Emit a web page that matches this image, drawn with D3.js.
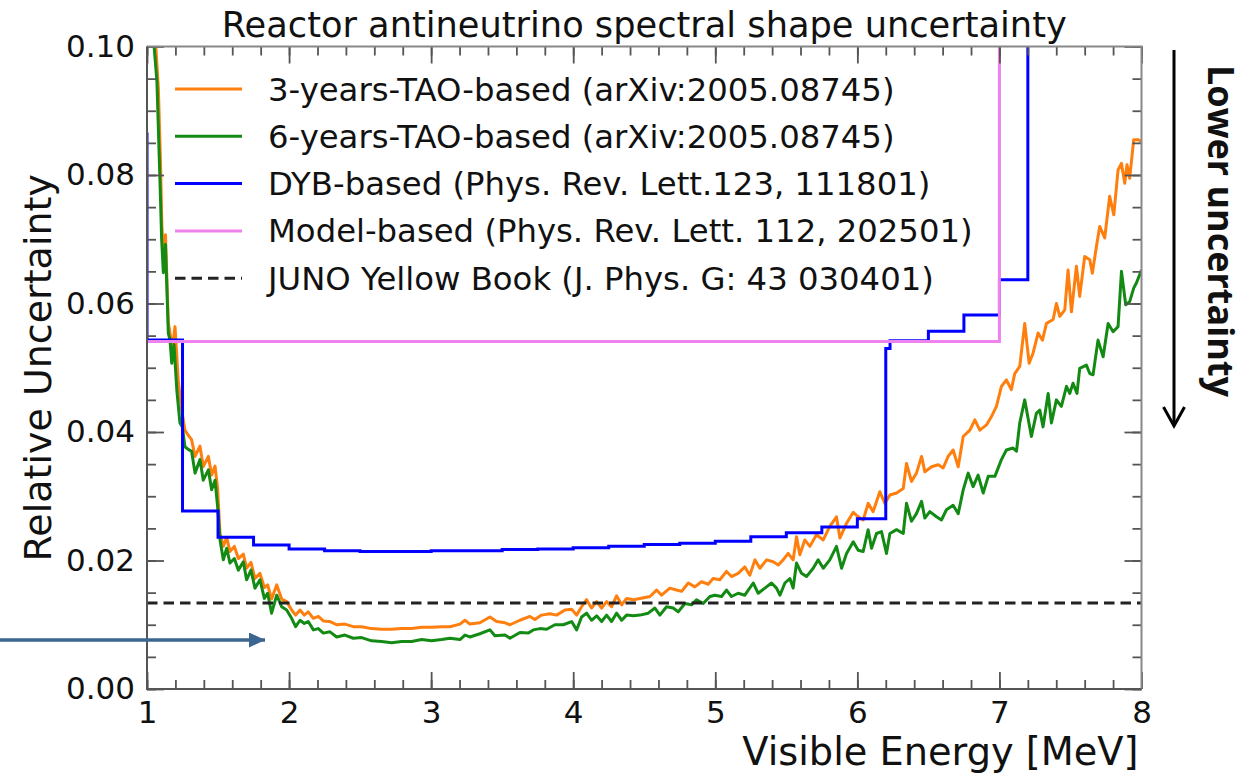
<!DOCTYPE html>
<html>
<head>
<meta charset="utf-8">
<script src="https://cdn.jsdelivr.net/npm/d3@7"></script>
<style>
  body { margin: 0; background: #fff; }
  svg { display: block; }
  text { font-family: "DejaVu Sans", sans-serif; fill: #111; }
</style>
</head>
<body>
<svg id="chart" width="1249" height="773"></svg>
<script>
// ---- Spectral shape uncertainty curves (visible energy in MeV, relative uncertainty) ----
const tao3E = [1.03,1.062,1.08,1.095,1.105,1.117,1.13,1.15,1.165,1.178,1.197,1.22,1.244,1.267,1.29,1.314,1.338,1.373,1.396,1.432,1.455,1.479,1.497,1.514,
  1.537,1.561,1.584,1.615,1.643,1.678,1.701,1.732,1.76,1.795,1.826,1.849,1.877,1.913,1.948,1.983,
  2.018,2.046,2.077,2.107,2.135,2.171,2.206,2.241,2.288,2.335,2.393,2.452,2.511,2.581,2.651,2.722,2.792,2.863,2.933,3.003,3.074,
  3.132,3.203,3.238,3.273,3.343,3.414,3.461,3.52,3.555,3.625,3.695,3.73,3.777,3.836,3.883,3.942,3.989,
  4.024,4.059,4.094,4.129,4.165,4.2,4.235,4.27,4.305,4.341,4.376,4.423,4.47,4.54,4.587,4.622,4.68,4.727,4.763,4.81,4.856,4.903,4.95,4.985,
  5.032,5.079,5.114,5.161,5.208,5.243,5.279,5.314,5.361,5.408,5.443,5.478,5.513,5.548,5.572,5.595,5.63,5.666,5.712,5.76,5.806,5.853,5.877,5.924,5.971,
  6.006,6.041,6.076,6.111,6.158,6.194,6.229,6.276,6.323,6.346,6.381,6.416,6.452,6.475,6.522,6.569,6.604,6.639,6.674,6.71,6.745,6.792,6.827,6.862,6.909,6.944,6.979,
  7.014,7.049,7.084,7.108,7.143,7.178,7.209,7.237,7.272,7.303,7.331,7.378,7.401,7.425,7.46,7.483,7.507,7.542,7.565,7.6,7.636,7.654,7.683,7.706,7.741,7.776,7.805,7.835,7.859,7.882,7.898,7.917,7.945,7.976,8.0];
const tao3V = [0.118,0.100,0.0935,0.082,0.0720,0.0668,0.0707,0.0570,0.0550,0.0528,0.0564,0.0480,0.0434,0.0403,0.0395,0.0388,0.0362,0.0378,0.0346,0.0362,0.0333,0.0347,0.0312,0.0242,
  0.0222,0.0236,0.0214,0.0222,0.0203,0.0210,0.0188,0.0197,0.0172,0.0180,0.0158,0.0162,0.0140,0.0162,0.0140,0.0136,
  0.0123,0.0115,0.0123,0.0115,0.0120,0.0110,0.0113,0.0106,0.0105,0.0100,0.0101,0.0097,0.0097,0.0094,0.0093,0.0093,0.0094,0.0094,0.0096,0.0096,0.0097,
  0.0097,0.0101,0.0107,0.0101,0.0103,0.0112,0.0105,0.0103,0.0100,0.0107,0.0113,0.0108,0.0115,0.0117,0.0115,0.0123,0.0124,
  0.0115,0.0128,0.0139,0.0126,0.0136,0.0126,0.0136,0.0128,0.0145,0.0131,0.0141,0.0139,0.0141,0.0144,0.0154,0.0146,0.0157,0.0154,0.0152,0.0165,0.0159,0.0167,0.0163,0.0172,
  0.0170,0.0183,0.0175,0.0180,0.0190,0.0177,0.0201,0.0188,0.0201,0.0198,0.0193,0.0201,0.0211,0.0201,0.0237,0.0209,0.0232,0.0222,0.0240,0.0232,0.0253,0.0268,0.0235,0.0258,0.0275,
  0.0268,0.0263,0.0289,0.0276,0.0307,0.0289,0.0302,0.0305,0.0312,0.0351,0.0323,0.0336,0.0362,0.0338,0.0346,0.0349,0.0344,0.0362,0.0372,0.0346,0.0393,0.0403,0.0419,0.0403,0.0411,0.0424,0.0440,
  0.0471,0.0481,0.0466,0.0491,0.0502,0.0569,0.0507,0.0523,0.0554,0.0543,0.0569,0.0575,0.0600,0.0580,0.0590,0.0652,0.0587,0.0658,0.0611,0.0673,0.0668,0.0647,0.0689,0.0720,0.0702,0.0767,0.0738,0.0808,0.0818,0.0787,0.0816,0.0795,0.0855,0.0855,0.0852];

const tao6E = [1.02,1.05,1.07,1.09,1.103,1.115,1.13,1.15,1.162,1.174,1.19,1.21,1.232,1.249,1.267,1.29,1.314,1.338,1.373,1.396,1.432,1.455,1.479,1.497,1.514,
  1.537,1.561,1.584,1.615,1.643,1.678,1.701,1.732,1.76,1.795,1.826,1.849,1.877,1.913,1.948,1.983,
  2.018,2.046,2.077,2.107,2.135,2.171,2.206,2.241,2.288,2.335,2.393,2.452,2.511,2.581,2.651,2.722,2.792,2.863,2.933,3.003,3.074,
  3.132,3.203,3.238,3.273,3.343,3.414,3.449,3.52,3.555,3.625,3.684,3.719,3.766,3.813,3.871,3.93,3.989,
  4.024,4.059,4.094,4.129,4.165,4.2,4.235,4.27,4.305,4.341,4.376,4.423,4.47,4.528,4.575,4.61,4.657,4.704,4.739,4.786,4.833,4.868,4.915,4.962,4.997,
  5.044,5.079,5.114,5.161,5.208,5.267,5.302,5.349,5.396,5.431,5.455,5.49,5.525,5.548,5.572,5.607,5.642,5.689,5.724,5.76,5.806,5.853,5.889,5.924,5.971,
  6.006,6.041,6.076,6.1,6.135,6.17,6.205,6.229,6.276,6.323,6.346,6.381,6.416,6.452,6.475,6.51,6.557,6.592,6.627,6.674,6.71,6.745,6.78,6.815,6.85,6.886,6.921,6.968,
  7.014,7.049,7.096,7.12,7.143,7.178,7.225,7.26,7.284,7.307,7.343,7.366,7.401,7.436,7.472,7.495,7.518,7.546,7.565,7.612,7.636,7.659,7.694,7.73,7.765,7.8,7.835,7.859,7.889,7.917,7.945,7.964,8.0];
const tao6V = [0.118,0.100,0.0945,0.080,0.0700,0.0648,0.0692,0.0554,0.0543,0.0507,0.0536,0.0465,0.0414,0.0408,0.0377,0.0373,0.0370,0.0336,0.0357,0.0325,0.0341,0.0310,0.0325,0.0284,0.0232,
  0.0201,0.0219,0.0196,0.0203,0.0185,0.0198,0.0170,0.0185,0.0157,0.0170,0.0141,0.0149,0.0118,0.0146,0.0128,0.0123,
  0.0110,0.0097,0.0107,0.0102,0.0105,0.0092,0.0094,0.0087,0.0089,0.0081,0.0084,0.0079,0.0080,0.0075,0.0074,0.0072,0.0074,0.0074,0.0077,0.0075,0.0077,
  0.0079,0.0077,0.0084,0.0081,0.0086,0.0092,0.0083,0.0084,0.0079,0.0088,0.0087,0.0092,0.0094,0.0093,0.0100,0.0100,0.0105,
  0.0092,0.0112,0.0118,0.0107,0.0114,0.0105,0.0115,0.0105,0.0118,0.0107,0.0115,0.0114,0.0115,0.0118,0.0126,0.0115,0.0128,0.0126,0.0120,0.0133,0.0131,0.0139,0.0133,0.0144,0.0146,
  0.0144,0.0154,0.0144,0.0149,0.0146,0.0165,0.0149,0.0157,0.0165,0.0157,0.0146,0.0165,0.0172,0.0157,0.0196,0.0180,0.0175,0.0188,0.0201,0.0188,0.0201,0.0222,0.0188,0.0211,0.0229,
  0.0216,0.0214,0.0248,0.0219,0.0242,0.0245,0.0211,0.0242,0.0248,0.0242,0.0289,0.0261,0.0273,0.0292,0.0266,0.0276,0.0268,0.0263,0.0279,0.0286,0.0273,0.0310,0.0336,0.0315,0.0333,0.0305,0.0331,0.0331,
  0.0357,0.0372,0.0375,0.0370,0.0414,0.0450,0.0393,0.0429,0.0434,0.0408,0.0460,0.0414,0.0450,0.0440,0.0471,0.0460,0.0476,0.0460,0.0499,0.0504,0.0491,0.0489,0.0543,0.0517,0.0569,0.0556,0.0564,0.0650,0.0598,0.0603,0.0624,0.0632,0.0652];

// DYB-based binned uncertainty (step after each bin edge)
const dybE = [1.0,1.0,1.25,1.5,1.75,2.0,2.25,2.5,2.75,3.0,3.25,3.5,3.75,4.0,4.25,4.5,4.75,5.0,5.25,5.5,5.75,6.0,6.2,6.23,6.5,6.75,7.0,7.2];
const dybV = [0.0866,0.0543,0.0277,0.0236,0.0224,0.0218,0.0215,0.0214,0.0214,0.0215,0.0215,0.0217,0.0218,0.0220,0.0222,0.0225,0.0227,0.0230,0.0237,0.0243,0.0252,0.0265,0.0530,0.0542,0.0557,0.0582,0.0637,0.12];

// Model-based: flat up to 7 MeV, then unconstrained
const modelE = [1.0, 7.0, 7.0];
const modelV = [0.0541, 0.0541, 0.12];

// JUNO Yellow Book requirement
const junoValue = 0.0134;

const xTicks = [1, 2, 3, 4, 5, 6, 7, 8];
const yTicks = [0.00, 0.02, 0.04, 0.06, 0.08, 0.10];
const xMinor = d3.range(1, 8.0001, 0.2);
const yMinor = d3.range(0, 0.10001, 0.005);

const legendLabels = [
  "3-years-TAO-based (arXiv:2005.08745)",
  "6-years-TAO-based (arXiv:2005.08745)",
  "DYB-based (Phys. Rev. Lett.123, 111801)",
  "Model-based (Phys. Rev. Lett. 112, 202501)",
  "JUNO Yellow Book (J. Phys. G: 43 030401)"
];
const seriesColors = ["#ff7f0e", "#138a13", "#0000ff", "#ee82ee", "#222222"];

// ---- Layout ----
const svg = d3.select("#chart");
const plot = { left: 147, right: 1141.5, top: 46.5, bottom: 689 };
const lw = 3;

const x = d3.scaleLinear().domain([1, 8]).range([plot.left, plot.right]);
const y = d3.scaleLinear().domain([0, 0.10]).range([plot.bottom, plot.top]);

svg.append("defs").append("clipPath").attr("id", "plotClip")
  .append("rect")
  .attr("x", plot.left).attr("y", plot.top)
  .attr("width", plot.right - plot.left).attr("height", plot.bottom - plot.top);

const lines = svg.append("g").attr("clip-path", "url(#plotClip)");

const zipPts = (es, vs) => es.map((e, i) => [e, vs[i]]);
const lineGen = d3.line().x(d => x(d[0])).y(d => y(d[1]));
const stepGen = d3.line().x(d => x(d[0])).y(d => y(d[1])).curve(d3.curveStepAfter);

lines.append("path").attr("d", lineGen(zipPts(tao3E, tao3V)))
  .attr("fill", "none").attr("stroke", seriesColors[0]).attr("stroke-width", lw).attr("stroke-linejoin", "round");
lines.append("path").attr("d", lineGen(zipPts(tao6E, tao6V)))
  .attr("fill", "none").attr("stroke", seriesColors[1]).attr("stroke-width", lw).attr("stroke-linejoin", "round");
lines.append("path").attr("d", stepGen(zipPts(dybE, dybV)))
  .attr("fill", "none").attr("stroke", seriesColors[2]).attr("stroke-width", lw);
lines.append("path").attr("d", lineGen(zipPts(modelE, modelV)))
  .attr("fill", "none").attr("stroke", seriesColors[3]).attr("stroke-width", lw);
lines.append("line")
  .attr("x1", x(1)).attr("x2", x(8)).attr("y1", y(junoValue)).attr("y2", y(junoValue))
  .attr("stroke", seriesColors[4]).attr("stroke-width", lw).attr("stroke-dasharray", "10.5,6");

// ---- Axes: ticks point inward on all four sides ----
const fmt = d3.format(".2f");
function styleAxis(g) {
  g.select(".domain").remove();
  g.selectAll(".tick line").attr("stroke", "#555").attr("stroke-width", 1.8);
  g.selectAll(".tick text").style("font-family", "DejaVu Sans").style("font-size", "31px").attr("fill", "#111");
}
svg.append("g").attr("transform", `translate(0,${plot.bottom})`)
  .call(d3.axisBottom(x).tickValues(xTicks).tickFormat(d3.format("d")).tickSize(-17).tickPadding(12))
  .call(styleAxis);
svg.append("g").attr("transform", `translate(0,${plot.bottom})`)
  .call(d3.axisBottom(x).tickValues(xMinor).tickFormat("").tickSize(-9)).call(styleAxis);
svg.append("g").attr("transform", `translate(0,${plot.top})`)
  .call(d3.axisTop(x).tickValues(xTicks).tickFormat("").tickSize(-17)).call(styleAxis);
svg.append("g").attr("transform", `translate(0,${plot.top})`)
  .call(d3.axisTop(x).tickValues(xMinor).tickFormat("").tickSize(-9)).call(styleAxis);
svg.append("g").attr("transform", `translate(${plot.left},0)`)
  .call(d3.axisLeft(y).tickValues(yTicks).tickFormat(fmt).tickSize(-17).tickPadding(12))
  .call(styleAxis);
svg.append("g").attr("transform", `translate(${plot.left},0)`)
  .call(d3.axisLeft(y).tickValues(yMinor).tickFormat("").tickSize(-9)).call(styleAxis);
svg.append("g").attr("transform", `translate(${plot.right},0)`)
  .call(d3.axisRight(y).tickValues(yTicks).tickFormat("").tickSize(-17)).call(styleAxis);
svg.append("g").attr("transform", `translate(${plot.right},0)`)
  .call(d3.axisRight(y).tickValues(yMinor).tickFormat("").tickSize(-9)).call(styleAxis);

// frame
svg.append("path")
  .attr("d", `M${plot.left},${plot.top}H${plot.right}V${plot.bottom}`)
  .attr("fill", "none").attr("stroke", "#888").attr("stroke-width", 2);
svg.append("path")
  .attr("d", `M${plot.left},${plot.top}V${plot.bottom}H${plot.right}`)
  .attr("fill", "none").attr("stroke", "#555").attr("stroke-width", 2);

// ---- Titles ----
svg.append("text").attr("x", (plot.left + plot.right) / 2).attr("y", 37)
  .attr("text-anchor", "middle").style("font-size", "35.2px")
  .text("Reactor antineutrino spectral shape uncertainty");
svg.append("text").attr("x", plot.right - 3).attr("y", 765)
  .attr("text-anchor", "end").style("font-size", "38.3px")
  .text("Visible Energy [MeV]");
svg.append("text")
  .attr("transform", `translate(51,${(plot.top + plot.bottom) / 2}) rotate(-90)`)
  .attr("text-anchor", "middle").style("font-size", "38px")
  .text("Relative Uncertainty");

// ---- Legend ----
const legend = svg.append("g");
legendLabels.forEach((label, i) => {
  const ly = 89 + i * 47.3;
  legend.append("line")
    .attr("x1", 175).attr("x2", 242).attr("y1", ly).attr("y2", ly)
    .attr("stroke", seriesColors[i]).attr("stroke-width", lw)
    .attr("stroke-dasharray", i === 4 ? "10.5,6" : null);
  legend.append("text").attr("x", 268).attr("y", ly + 11.5)
    .style("font-size", "32.3px").text(label);
});

// ---- Annotations ----
const markers = svg.select("defs");
markers.append("marker").attr("id", "headBlue")
  .attr("viewBox", "0 0 16 15").attr("refX", 16).attr("refY", 7.5)
  .attr("markerWidth", 16).attr("markerHeight", 15).attr("markerUnits", "userSpaceOnUse")
  .attr("orient", "auto")
  .append("path").attr("d", "M0,0L16,7.5L0,15Z").attr("fill", "#3a6690");
svg.append("line")
  .attr("x1", 0).attr("y1", 640).attr("x2", 265).attr("y2", 640)
  .attr("stroke", "#3a6690").attr("stroke-width", 3.3).attr("marker-end", "url(#headBlue)");

svg.append("line")
  .attr("x1", 1174).attr("y1", 50).attr("x2", 1174).attr("y2", 425)
  .attr("stroke", "#000").attr("stroke-width", 3);
svg.append("path")
  .attr("d", "M1163.5,407L1174,426L1184.5,407")
  .attr("fill", "none").attr("stroke", "#000").attr("stroke-width", 3);
svg.append("text")
  .attr("transform", "translate(1208,231) rotate(90)")
  .attr("text-anchor", "middle")
  .style("font-family", "'Open Sans', sans-serif").style("font-weight", "700").style("font-size", "36px")
  .text("Lower uncertainty");
</script>
</body>
</html>
